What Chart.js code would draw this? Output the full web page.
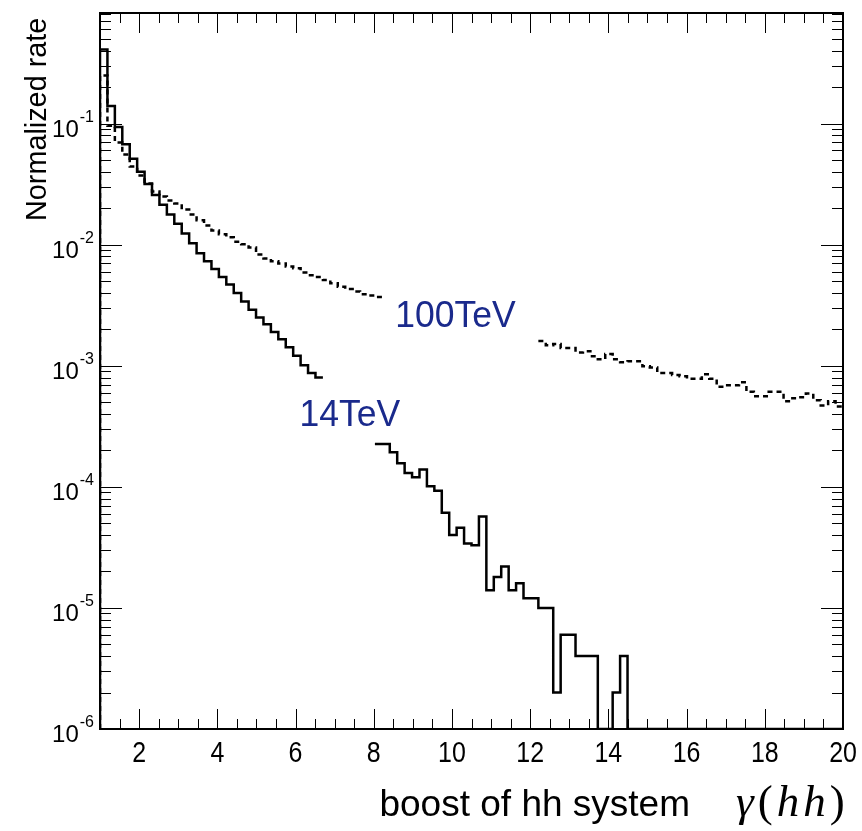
<!DOCTYPE html>
<html lang="en">
<head>
	<meta charset="UTF-8">
	<title>boost of hh system</title>
	<script src="https://cdn.jsdelivr.net/npm/chart.js@4.4.1/dist/chart.umd.min.js"></script>
	<style>
		html, body { margin: 0; padding: 0; background: #fff; }
		.box { width: 862px; height: 831px; }
	</style>
</head>
<body>
	<div class="box">
		<canvas id="myChart" width="862" height="831"></canvas>
	</div>
</body>
<script>
	// histogram binning: 100 bins between 1 and 20
	var xMin = 1, xMax = 20, nBins = 100;
	var yMin = 1e-6, yMax = 0.82;

	// 14TeV, solid line (null = covered by the label, 0 = empty bin)
	var rate14 = [
		0.41, 0.14, 0.094, 0.0675, 0.0514, 0.040, 0.0318, 0.0257, 0.0214, 0.0178,
		0.0149, 0.0124, 0.0103, 0.0085, 0.0073, 0.0063, 0.0054, 0.0047, 0.0040, 0.0034,
		0.0029, 0.0025, 0.0022, 0.0019, 0.00166, 0.00142, 0.00121, 0.00101, 0.00087, 0.00080,
		null, null, null, null, null, null, null, 2.26e-4, 2.26e-4, 1.93e-4,
		1.57e-4, 1.30e-4, 1.20e-4, 1.39e-4, 1.01e-4, 9.3e-5, 6.1e-5, 4.0e-5, 4.6e-5, 3.4e-5,
		3.3e-5, 5.7e-5, 1.4e-5, 1.8e-5, 2.2e-5, 1.4e-5, 1.6e-5, 1.2e-5, 1.2e-5, 1.0e-5,
		1.0e-5, 2e-6, 6e-6, 6e-6, 4e-6, 4e-6, 4e-6, 0, 0, 2e-6,
		4e-6, 0, 0, 0, 0, 0, 0, 0, 0, 0,
		0, 0, 0, 0, 0, 0, 0, 0, 0, 0,
		0, 0, 0, 0, 0, 0, 0, 0, 0, 0
	];
	// 100TeV, dashed line
	var rate100 = [
		0.25, 0.096, 0.070, 0.0555, 0.0442, 0.0373, 0.0320, 0.0275, 0.0250, 0.0232,
		0.0219, 0.0195, 0.0178, 0.0159, 0.0144, 0.0131, 0.0122, 0.0115, 0.0106, 0.0101,
		0.0095, 0.0083, 0.0077, 0.0073, 0.0070, 0.0066, 0.0064, 0.0059, 0.0056, 0.0054,
		0.0051, 0.0048, 0.0045, 0.0043, 0.0041, 0.0039, 0.0038, 0.0037, null, null,
		null, null, null, null, null, null, null, null, null, null,
		null, null, null, null, null, null, null, null, null, 0.00160,
		0.00148, 0.00151, 0.00140, 0.00140, 0.00129, 0.00132, 0.00120, 0.00113, 0.00125, 0.00113,
		0.00107, 0.00109, 0.00109, 0.00099, 0.00097, 0.00087, 0.00087, 0.00084, 0.00082, 0.00078,
		0.00078, 0.00085, 0.00078, 0.00067, 0.00069, 0.00069, 0.00073, 0.00061, 0.00056, 0.00056,
		0.00061, 0.00061, 0.00051, 0.00054, 0.00055, 0.00059, 0.00052, 0.00047, 0.00051, 0.00046
	];

	var xTicks = [2, 4, 6, 8, 10, 12, 14, 16, 18, 20];
	var xMinorStep = 0.5;
	var yDecades = [-6, -5, -4, -3, -2, -1];

	// curve labels: text, x, y (data units, left / baseline)
	var curveLabels = [
		{ text: "100TeV", x: 8.55, y: 0.0021 },
		{ text: "14TeV", x: 6.1, y: 3.2e-4 }
	];

	// step outline of a histogram, empty bins sit on the bottom axis
	function histPoints(vals) {
		var w = (xMax - xMin) / nBins;
		var pts = [{ x: xMin, y: yMin }];
		for (var i = 0; i < vals.length; i++) {
			var lo = xMin + i * w;
			var v = vals[i] === 0 ? yMin : vals[i];
			pts.push({ x: lo, y: v });
			pts.push({ x: lo + w, y: v });
		}
		return pts;
	}

	function text(ctx, str, x, y, font, align, sx) {
		ctx.save();
		ctx.font = font;
		ctx.textAlign = align || "left";
		ctx.textBaseline = "alphabetic";
		ctx.translate(x, y);
		ctx.scale(sx || 1, 1);
		ctx.fillText(str, 0, 0);
		ctx.restore();
	}

	var framePlugin = {
		id: "frame",
		afterDatasetsDraw: function (chart) {
			var ctx = chart.ctx, a = chart.chartArea;
			var xs = chart.scales.x, ys = chart.scales.y;
			ctx.save();
			ctx.strokeStyle = "#000";
			ctx.fillStyle = "#000";

			// x ticks, bottom and top, pointing inwards
			ctx.lineWidth = 1;
			ctx.beginPath();
			for (var v = xMin; v <= xMax; v += xMinorStep) {
				var px = Math.round(xs.getPixelForValue(v)) + 0.5;
				var len = xTicks.indexOf(v) >= 0 ? 20 : 10;
				ctx.moveTo(px, a.bottom); ctx.lineTo(px, a.bottom - len);
				ctx.moveTo(px, a.top); ctx.lineTo(px, a.top + len);
			}
			// y ticks, left and right
			for (var d = -6; d <= 0; d++) {
				for (var m = 1; m <= 9; m++) {
					var val = m * Math.pow(10, d);
					if (val < yMin || val > yMax) continue;
					var py = Math.round(ys.getPixelForValue(val)) + 0.5;
					var l = m === 1 ? 22 : 11;
					ctx.moveTo(a.left, py); ctx.lineTo(a.left + l, py);
					ctx.moveTo(a.right, py); ctx.lineTo(a.right - l, py);
				}
			}
			ctx.stroke();

			// frame
			ctx.lineWidth = 2;
			ctx.strokeRect(a.left, a.top, a.right - a.left, a.bottom - a.top);

			var sans = "'Liberation Sans', Arial, sans-serif";
			// x tick labels
			xTicks.forEach(function (t) {
				text(ctx, String(t), xs.getPixelForValue(t), 762, "29px " + sans, "center", 0.86);
			});

			// y tick labels 10^n
			yDecades.forEach(function (e) {
				var py = ys.getPixelForValue(Math.pow(10, e));
				var sup = String(e);
				ctx.font = "16px " + sans;
				var wSup = ctx.measureText(sup).width;
				ctx.font = "24px " + sans;
				var wTen = ctx.measureText("10").width;
				var x0 = 93 - wSup - wTen;
				text(ctx, "10", x0, py + 13, "24px " + sans, "left");
				text(ctx, sup, x0 + wTen + 1, py - 2, "16px " + sans, "left");
			});

			// axis titles
			ctx.save();
			ctx.translate(46, 221);
			ctx.rotate(-Math.PI / 2);
			text(ctx, "Normalized rate", 0, 0, "30px " + sans, "left", 0.96);
			ctx.restore();

			text(ctx, "boost of hh system", 690, 816, "37px " + sans, "right");

			// gamma(hh), math style
			var serif = "'Liberation Serif', 'DejaVu Serif', serif";
			var parts = [["\u03b3", "italic 45px "], ["(", "45px "], ["h", "italic 45px "], ["h", "italic 45px "], [")", "45px "]];
			var gx = 736;
			parts.forEach(function (p) {
				ctx.font = p[1] + serif;
				text(ctx, p[0], gx, 816, p[1] + serif, "left");
				gx += ctx.measureText(p[0]).width + 4;
			});

			// curve labels
			ctx.fillStyle = "#1a2a8c";
			curveLabels.forEach(function (c) {
				text(ctx, c.text, xs.getPixelForValue(c.x), ys.getPixelForValue(c.y), "37px " + sans, "left", 0.96);
			});
			ctx.restore();
		}
	};

	var ctx = document.getElementById("myChart");
	var myChart = new Chart(ctx, {
		type: "line",
		data: {
			datasets: [{
				label: "14TeV",
				data: histPoints(rate14),
				borderColor: "#000",
				borderWidth: 2.5,
				borderJoinStyle: "miter",
				pointRadius: 0,
				fill: false,
				tension: 0,
				spanGaps: false
			}, {
				label: "100TeV",
				data: histPoints(rate100),
				borderColor: "#000",
				borderWidth: 2.5,
				borderDash: [5, 4],
				borderJoinStyle: "miter",
				pointRadius: 0,
				fill: false,
				tension: 0,
				spanGaps: false
			}]
		},
		options: {
			responsive: false,
			animation: false,
			devicePixelRatio: 1,
			layout: { padding: { left: 100, right: 19, top: 13, bottom: 102 } },
			plugins: { legend: { display: false }, tooltip: { enabled: false } },
			scales: {
				x: { type: "linear", min: xMin, max: xMax, bounds: "data", display: false },
				y: { type: "logarithmic", min: yMin, max: yMax, bounds: "data", display: false }
			}
		},
		plugins: [framePlugin]
	});
</script>
</html>
